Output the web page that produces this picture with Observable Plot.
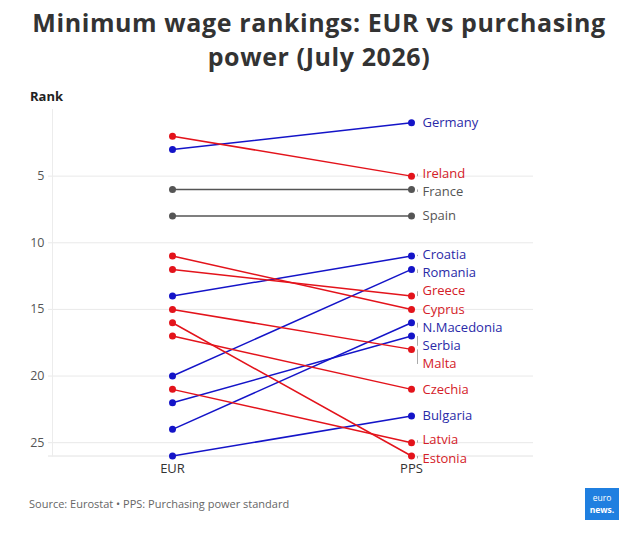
<!DOCTYPE html>
<html><head><meta charset="utf-8">
<script src="https://cdn.jsdelivr.net/npm/d3@7"></script>
<script src="https://cdn.jsdelivr.net/npm/@observablehq/plot@0.6"></script>
<style>
body{margin:0;background:#fff;font-family:"Open Sans",sans-serif;}
#wrap{position:relative;width:638px;height:535px;overflow:hidden;background:#fff;}
#title{position:absolute;left:0;top:5px;width:638px;text-align:center;font-size:25px;letter-spacing:0.6px;font-weight:700;line-height:34.2px;color:#333;}
#rank{position:absolute;left:30px;top:88px;font-size:13px;font-weight:700;color:#222;line-height:16px;z-index:2;}
#chart{position:absolute;left:0;top:80px;z-index:1;}
#source{position:absolute;left:29px;top:497px;font-size:11px;line-height:14px;color:#666;}
#logo{position:absolute;left:585px;top:488px;width:34px;height:32px;background:#1f7fe0;color:#fff;text-align:center;font-size:8.5px;line-height:11.8px;padding-top:4px;box-sizing:border-box;}
#logo b{font-weight:700;}
</style>
</head><body>
<div id="wrap">
  <div id="title">Minimum wage rankings: EUR vs purchasing<br>power (July 2026)</div>
  <div id="chart"></div>
  <div id="rank">Rank</div>
  <div id="source">Source: Eurostat • PPS: Purchasing power standard</div>
  <div id="logo">euro<br><b>news.</b></div>
</div>
<script>
const scales = ["EUR", "PPS"];
const countries = ["Germany","Ireland","France","Spain","Croatia","Romania","Greece","Cyprus","N.Macedonia","Serbia","Malta","Czechia","Bulgaria","Latvia","Estonia"];
const eurRank = [3,2,6,8,14,20,12,11,24,22,15,17,26,21,16];
const ppsRank = [1,5,6,8,11,12,14,15,16,17,18,21,23,25,26];
const yTicks = [5,10,15,20,25];
const yDomain = [0,26];

const lineColor = {up:"#1414c8", down:"#e3131b", same:"#555555"};
const textColor = {up:"#2a2aa8", down:"#d42028", same:"#555555"};

const group = countries.map((c,i)=> ppsRank[i] < eurRank[i] ? "up" : ppsRank[i] > eurRank[i] ? "down" : "same");

function dodge(values, sep){
  const idx = values.map((v,i)=>i).sort((a,b)=>values[a]-values[b]);
  let groups = idx.map(i=>({items:[i], center: values[i]}));
  let merged = true;
  while(merged){
    merged = false;
    for(let k=0;k<groups.length-1;k++){
      const a = groups[k], b = groups[k+1];
      const aEnd = a.center + (a.items.length-1)*sep/2;
      const bStart = b.center - (b.items.length-1)*sep/2;
      if(bStart - aEnd < sep){
        const items = a.items.concat(b.items);
        groups.splice(k,2,{items, center: d3.median(items, i=>values[i])});
        merged = true; break;
      }
    }
  }
  const out = new Array(values.length);
  for(const g of groups) g.items.forEach((i,j)=>{ out[i] = g.center + (j-(g.items.length-1)/2)*sep; });
  return out;
}

const labelRank = dodge(ppsRank, 1.365);

const rows = countries.flatMap((c,i)=>[
  {country:c, scale:scales[0], rank:eurRank[i], group:group[i]},
  {country:c, scale:scales[1], rank:ppsRank[i], group:group[i]}
]);
const labels = countries.map((c,i)=>({country:c, scale:scales[1], rank:ppsRank[i], labelRank:labelRank[i], group:group[i]}));

const chart = Plot.plot({
  width:638, height:400,
  marginLeft:52, marginRight:108, marginTop:29, marginBottom:24.5,
  x:{type:"point", domain:scales, padding:0.5},
  y:{domain:yDomain, reverse:true},
  style:{fontFamily:'"Open Sans", sans-serif', fontSize:"13px", background:"#fff"},
  marks:[
    Plot.ruleY(yTicks, {stroke:"#e9e9e9", insetLeft:-4, insetRight:-3}),
    Plot.ruleY([yDomain[1]], {stroke:"#e2e2e2", insetLeft:-4, insetRight:-3}),
    Plot.frame({anchor:"left", stroke:"#ececec"}),
    Plot.axisY({ticks:yTicks, tickSize:0, tickPadding:8, label:null, fill:"#555", fontSize:12.5}),
    Plot.axisX({tickSize:0, tickPadding:8, label:null, fill:"#333", fontSize:13}),
    Plot.link(labels, {x1:"scale", x2:"scale", y1:"rank", y2:"labelRank", dx:6, stroke:"#aaa", strokeWidth:1}),
    Plot.line(rows, {x:"scale", y:"rank", z:"country", stroke:d=>lineColor[d.group], strokeWidth:1.5}),
    Plot.dot(rows, {x:"scale", y:"rank", r:3.5, fill:d=>lineColor[d.group], stroke:null}),
    Plot.text(labels, {x:"scale", y:"labelRank", text:"country", dx:11, textAnchor:"start", fill:d=>textColor[d.group], fontSize:13})
  ]
});
document.getElementById("chart").appendChild(chart);
</script>
</body></html>
